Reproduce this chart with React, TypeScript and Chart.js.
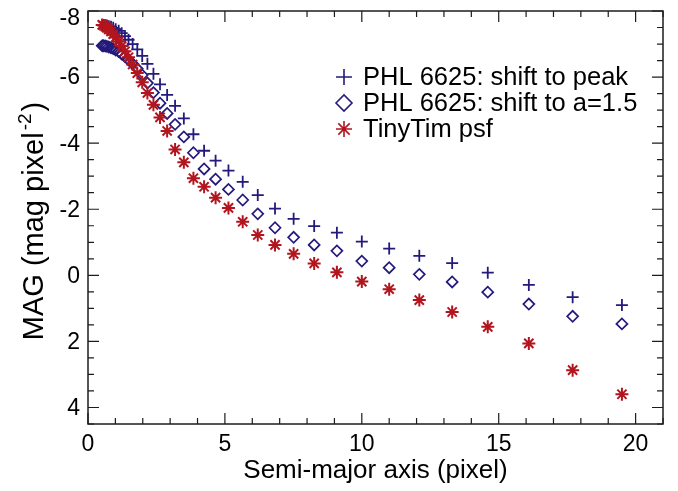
import React, { useEffect, useRef } from 'react';
import { Chart, registerables } from 'chart.js';

Chart.register(...registerables);

// Semi-major axis (pixel) of each isophote, shared by the three profiles
const semiMajorAxis = [
  0.52, 0.57, 0.63, 0.69, 0.76, 0.84, 0.92, 1.01, 1.12, 1.23,
  1.35, 1.48, 1.63, 1.80, 1.98, 2.17, 2.39, 2.63, 2.89, 3.18,
  3.50, 3.85, 4.24, 4.66, 5.13, 5.65, 6.20, 6.83, 7.51, 8.26,
  9.09, 10.0, 11.0, 12.1, 13.3, 14.6, 16.1, 17.7, 19.5,
];

// PHL 6625: shift to peak
const magShiftPeak = [
  -7.58, -7.58, -7.57, -7.56, -7.54, -7.52, -7.49, -7.45, -7.40, -7.33,
  -7.24, -7.13, -7.00, -6.84, -6.64, -6.40, -6.10, -5.78, -5.46, -5.13,
  -4.75, -4.27, -3.77, -3.47, -3.17, -2.83, -2.43, -2.02, -1.71, -1.49,
  -1.29, -1.02, -0.81, -0.59, -0.37, -0.08, 0.29, 0.66, 0.90,
];

// PHL 6625: shift to a=1.5
const magShiftA15 = [
  -6.95, -6.95, -6.94, -6.93, -6.91, -6.89, -6.86, -6.82, -6.77, -6.70,
  -6.62, -6.52, -6.40, -6.25, -6.06, -5.82, -5.53, -5.21, -4.90, -4.57,
  -4.19, -3.71, -3.22, -2.91, -2.60, -2.28, -1.86, -1.44, -1.15, -0.92,
  -0.74, -0.43, -0.23, -0.03, 0.20, 0.51, 0.87, 1.24, 1.47,
];

// TinyTim psf
const magTinyTim = [
  -7.58, -7.56, -7.53, -7.49, -7.44, -7.38, -7.30, -7.20, -7.08, -6.94,
  -6.78, -6.60, -6.38, -6.12, -5.84, -5.52, -5.16, -4.78, -4.37, -3.81,
  -3.42, -2.94, -2.68, -2.35, -2.04, -1.62, -1.22, -0.92, -0.65, -0.36,
  -0.09, 0.19, 0.42, 0.75, 1.11, 1.56, 2.06, 2.87, 3.60,
];

const seriesLabels = [
  'PHL 6625: shift to peak',
  'PHL 6625: shift to a=1.5',
  'TinyTim psf',
];

const xTickValues = [0, 5, 10, 15, 20];
const yTickValues = [-8, -6, -4, -2, 0, 2, 4];
const xTitle = 'Semi-major axis (pixel)';
const yTitleMain = 'MAG (mag pixel';
const yTitleSup = '-2';
const yTitleEnd = ')';

const NAVY = '#241a7c';
const RED = '#b3151f';
const FONT = '"Liberation Sans", Arial, Helvetica, sans-serif';

function toPoints(ys: number[]) {
  return semiMajorAxis.map((x, i) => ({ x, y: ys[i] }));
}

function drawMarker(ctx: CanvasRenderingContext2D, kind: string, x: number, y: number, r: number, color: string) {
  ctx.save();
  ctx.strokeStyle = color;
  ctx.lineWidth = 1.6;
  ctx.beginPath();
  if (kind === 'cross') {
    ctx.moveTo(x - r, y); ctx.lineTo(x + r, y);
    ctx.moveTo(x, y - r); ctx.lineTo(x, y + r);
  } else if (kind === 'diamond') {
    ctx.moveTo(x - r, y); ctx.lineTo(x, y - r); ctx.lineTo(x + r, y); ctx.lineTo(x, y + r); ctx.closePath();
  } else {
    const d = r * Math.SQRT1_2;
    ctx.moveTo(x - r, y); ctx.lineTo(x + r, y);
    ctx.moveTo(x, y - r); ctx.lineTo(x, y + r);
    ctx.moveTo(x - d, y - d); ctx.lineTo(x + d, y + d);
    ctx.moveTo(x - d, y + d); ctx.lineTo(x + d, y - d);
  }
  ctx.stroke();
  ctx.restore();
}

const framePlugin = {
  id: 'idlFrame',
  afterDatasetsDraw(chart: any) {
    const { ctx, chartArea: a, scales } = chart;
    const xs = scales.x;
    const ys = scales.y;
    ctx.save();
    ctx.strokeStyle = '#1c1c1c';
    ctx.lineWidth = 1.5;
    ctx.strokeRect(a.left, a.top, a.right - a.left, a.bottom - a.top);
    ctx.lineWidth = 1.2;
    ctx.beginPath();
    for (let v = 0; v <= 21; v += 1) {
      const px = xs.getPixelForValue(v);
      const len = v % 5 === 0 ? 11 : 6;
      ctx.moveTo(px, a.bottom); ctx.lineTo(px, a.bottom - len);
      ctx.moveTo(px, a.top); ctx.lineTo(px, a.top + len);
    }
    for (let v = -8; v <= 4.5; v += 0.5) {
      const py = ys.getPixelForValue(v);
      const len = Math.abs(v % 2) < 1e-6 ? 11 : 6;
      ctx.moveTo(a.left, py); ctx.lineTo(a.left + len, py);
      ctx.moveTo(a.right, py); ctx.lineTo(a.right - len, py);
    }
    ctx.stroke();

    ctx.fillStyle = '#000';
    // y tick labels (the top one sits just below the frame corner, as in the original)
    ctx.font = `23px ${FONT}`;
    ctx.textAlign = 'right';
    ctx.textBaseline = 'middle';
    yTickValues.forEach((v, i) => {
      const py = ys.getPixelForValue(v);
      const off = i === 0 ? 8 : 1;
      ctx.fillText(String(v), a.left - 8, py + off);
    });

    // axis titles
    ctx.font = `26px ${FONT}`;
    ctx.textAlign = 'center';
    ctx.textBaseline = 'middle';
    ctx.fillText(xTitle, (a.left + a.right) / 2, 471);

    ctx.save();
    ctx.translate(33, 221);
    ctx.rotate(-Math.PI / 2);
    ctx.textAlign = 'left';
    ctx.textBaseline = 'alphabetic';
    ctx.font = `29px ${FONT}`;
    const w1 = ctx.measureText(yTitleMain).width;
    const w3 = ctx.measureText(yTitleEnd).width;
    ctx.font = `19px ${FONT}`;
    const w2 = ctx.measureText(yTitleSup).width;
    const total = w1 + w2 + w3 + 4;
    let x0 = -total / 2;
    const base = 10;
    ctx.font = `29px ${FONT}`;
    ctx.fillText(yTitleMain, x0, base);
    x0 += w1 + 2;
    ctx.font = `19px ${FONT}`;
    ctx.fillText(yTitleSup, x0, base - 12);
    x0 += w2 + 2;
    ctx.font = `29px ${FONT}`;
    ctx.fillText(yTitleEnd, x0, base);
    ctx.restore();

    // legend
    const kinds = ['cross', 'diamond', 'star'];
    const colors = [NAVY, NAVY, RED];
    const rowY = [77, 103, 129];
    ctx.font = `25.5px ${FONT}`;
    ctx.textAlign = 'left';
    ctx.textBaseline = 'middle';
    for (let i = 0; i < 3; i++) {
      drawMarker(ctx, kinds[i], 344, rowY[i], 8, colors[i]);
      ctx.fillStyle = '#000';
      ctx.fillText(seriesLabels[i], 363, rowY[i] + 1);
    }
    ctx.restore();
  },
};

export default function App() {
  const canvasRef = useRef<HTMLCanvasElement | null>(null);

  useEffect(() => {
    document.body.style.margin = '0';
    const canvas = canvasRef.current;
    if (!canvas) return;
    const tickFont = { family: FONT, size: 23 };
    const zeroPad = (s: any) => {
      s.paddingTop = 0; s.paddingBottom = 0; s.paddingLeft = 0; s.paddingRight = 0;
    };
    const chart = new Chart(canvas, {
      type: 'scatter',
      data: {
        datasets: [
          {
            label: seriesLabels[2],
            data: toPoints(magTinyTim),
            pointStyle: 'star',
            pointRadius: 6.5,
            borderColor: RED,
            backgroundColor: RED,
            pointBorderWidth: 2,
            order: 0,
          },
          {
            label: seriesLabels[1],
            data: toPoints(magShiftA15),
            pointStyle: 'rectRot',
            pointRadius: 5.5,
            borderColor: NAVY,
            backgroundColor: 'rgba(255,255,255,0)',
            pointBorderWidth: 1.7,
            order: 1,
          },
          {
            label: seriesLabels[0],
            data: toPoints(magShiftPeak),
            pointStyle: 'cross',
            pointRadius: 6,
            borderColor: NAVY,
            backgroundColor: NAVY,
            pointBorderWidth: 1.8,
            order: 2,
          },
        ],
      },
      options: {
        animation: false,
        responsive: false,
        maintainAspectRatio: false,
        layout: { padding: { top: 11, right: 15, left: 0, bottom: 0 } },
        plugins: { legend: { display: false }, tooltip: { enabled: false } },
        scales: {
          x: {
            type: 'linear',
            min: 0,
            max: 21,
            afterFit: (s: any) => { s.height = 67; zeroPad(s); },
            grid: { display: false, drawTicks: false },
            border: { display: false },
            ticks: {
              stepSize: 5,
              includeBounds: false,
              maxRotation: 0,
              autoSkip: false,
              color: '#000',
              font: tickFont,
              padding: 7,
              callback: (v: any) => (xTickValues.includes(Number(v)) ? String(v) : ''),
            },
          },
          y: {
            type: 'linear',
            min: -8,
            max: 4.5,
            reverse: true,
            afterFit: (s: any) => { s.width = 88; zeroPad(s); },
            grid: { display: false, drawTicks: false },
            border: { display: false },
            ticks: {
              stepSize: 2,
              includeBounds: false,
              autoSkip: false,
              color: 'rgba(0,0,0,0)',
              font: tickFont,
              padding: 8,
              callback: (v: any) => (yTickValues.includes(Number(v)) ? String(v) : ''),
            },
          },
        },
      },
      plugins: [framePlugin],
    } as any);
    return () => chart.destroy();
  }, []);

  return (
    <div style={{ width: 678, height: 491, background: '#fff' }}>
      <canvas ref={canvasRef} width={678} height={491} style={{ display: 'block' }} />
    </div>
  );
}
